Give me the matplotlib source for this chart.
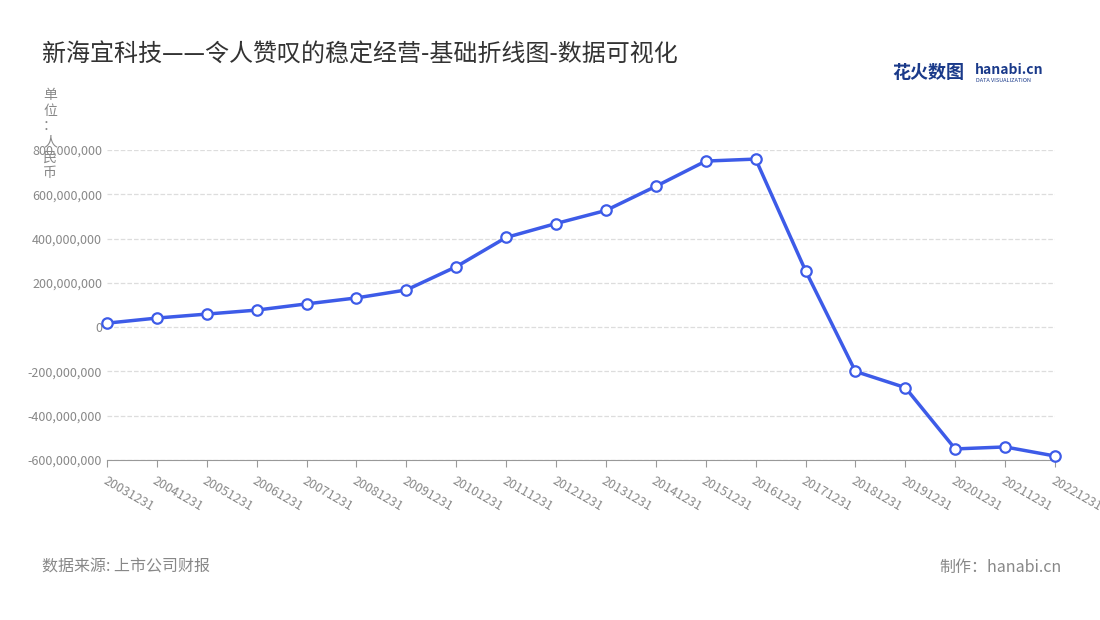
import matplotlib
matplotlib.use("Agg")
import matplotlib.pyplot as plt
from matplotlib.ticker import FuncFormatter

plt.rcParams['font.family'] = ['Noto Sans CJK SC', 'DejaVu Sans']

dates = ["20031231","20041231","20051231","20061231","20071231","20081231","20091231",
         "20101231","20111231","20121231","20131231","20141231","20151231","20161231",
         "20171231","20181231","20191231","20201231","20211231","20221231"]
values = [18e6, 41e6, 59e6, 77e6, 105e6, 132e6, 168e6, 273e6, 405e6, 468e6, 527e6,
          636e6, 750e6, 759e6, 255e6, -200e6, -273e6, -550e6, -541e6, -582e6]
yticks = [-600e6, -400e6, -200e6, 0, 200e6, 400e6, 600e6, 800e6]

fig = plt.figure(figsize=(11, 6.2), dpi=100)
ax = fig.add_axes([107/1100, 1-460/620, (1055-107)/1100, 310/620])
x = list(range(len(dates)))
ax.plot(x, values, color='#3d5be8', lw=2.5, marker='o', ms=7.5,
        markerfacecolor='white', markeredgecolor='#3d5be8', markeredgewidth=1.6, zorder=3, clip_on=False)
ax.set_xlim(0, len(dates)-1)
ax.set_ylim(-600e6, 800e6)
ax.set_yticks(yticks)
ax.yaxis.set_major_formatter(FuncFormatter(lambda v, p: f"{v:,.0f}"))
ax.set_xticks(x)
ax.set_xticklabels(dates, rotation=-30, ha='left', rotation_mode='anchor')
ax.tick_params(axis='both', colors='#888888', labelsize=9, length=0)
ax.tick_params(axis='x', length=5, color='#999999', pad=5)
ax.grid(axis='y', ls='--', color='#dddddd', lw=0.9)
for s in ['top', 'right', 'left']:
    ax.spines[s].set_visible(False)
ax.spines['bottom'].set_color('#999999')
ax.set_axisbelow(True)

fig.text(42/1100, 1-55/620, "新海宜科技——令人赞叹的稳定经营-基础折线图-数据可视化", fontsize=17.3, color='#333333', va='center')
fig.text(50/1100, 1-88/620, "单\n位\n：\n人\n民\n币", fontsize=10, color='#888888', va='top', ha='center', linespacing=1.15)
fig.text(42/1100, 1-567/620, "数据来源: 上市公司财报", fontsize=11.5, color='#888888', va='center')
fig.text(1062/1100, 1-567/620, "制作：hanabi.cn", fontsize=11.5, color='#888888', va='center', ha='right')
fig.text(892/1100, 1-72/620, "花火数图", fontsize=13, color='#1a3a8a', va='center', weight='bold')
fig.text(975/1100, 1-70/620, "hanabi.cn", fontsize=10, color='#1a3a8a', va='center', weight='bold')
fig.text(976/1100, 1-80/620, "DATA VISUALIZATION", fontsize=4, color='#1a3a8a', va='center')
fig.savefig("out.png", dpi=100, facecolor='white')
